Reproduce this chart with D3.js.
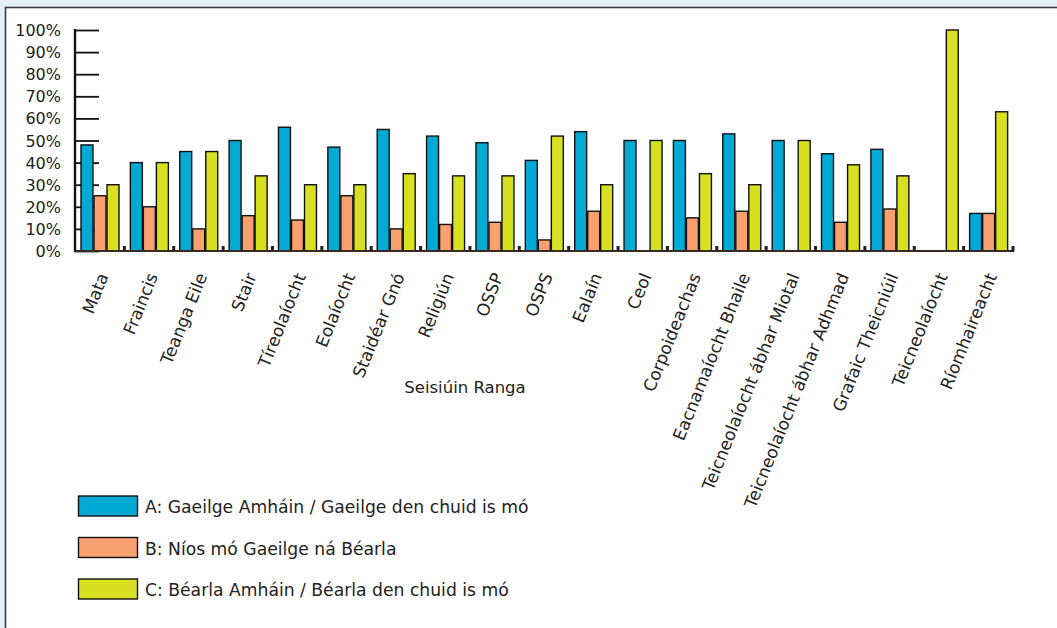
<!DOCTYPE html>
<html>
<head>
<meta charset="utf-8">
<script src="https://cdn.jsdelivr.net/npm/d3@7"></script>
<style>
  html, body { margin: 0; padding: 0; background: #e4f2f8; }
  svg { display: block; }
  text { font-family: "DejaVu Sans", "Open Sans", sans-serif; fill: #222; }
</style>
</head>
<body>
<svg id="chart" width="1057" height="628"></svg>
<script>
// Subjects (class sessions)
const categories = [
  "Mata", "Fraincis", "Teanga Eile", "Stair", "Tíreolaíocht", "Eolaíocht",
  "Staidéar Gnó", "Religiún", "OSSP", "OSPS", "Ealaín", "Ceol",
  "Corpoideachas", "Eacnamaíocht Bhaile", "Teicneolaíocht ábhar Miotal",
  "Teicneolaíocht ábhar Adhmad", "Grafaic Theicniúil", "Teicneolaíocht",
  "Ríomhaireacht"
];

// Percentage of sessions by language of instruction
const seriesA = [48, 40, 45, 50, 56, 47, 55, 52, 49, 41, 54, 50, 50, 53, 50, 44, 46, 0, 17];
const seriesB = [25, 20, 10, 16, 14, 25, 10, 12, 13, 5, 18, 0, 15, 18, 0, 13, 19, 0, 17];
const seriesC = [30, 40, 45, 34, 30, 30, 35, 34, 34, 52, 30, 50, 35, 30, 50, 39, 34, 100, 63];

const seriesNames = [
  "A: Gaeilge Amháin / Gaeilge den chuid is mó",
  "B: Níos mó Gaeilge ná Béarla",
  "C: Béarla Amháin / Béarla den chuid is mó"
];
const seriesColors = ["#00aad4", "#f9a070", "#d7e021"];
const yTicks = [0, 10, 20, 30, 40, 50, 60, 70, 80, 90, 100];
const xTitle = "Seisiúin Ranga";

const series = [seriesA, seriesB, seriesC];
const svg = d3.select("#chart");

// white panel with dark frame
svg.append("rect")
  .attr("x", 5.5).attr("y", 7.5)
  .attr("width", 1100).attr("height", 700)
  .attr("fill", "#fff")
  .attr("stroke", "#3a3a3a").attr("stroke-width", 1.6);

const plotL = 75, plotR = 1013, plotT = 30, plotB = 251;

const x = d3.scaleBand().domain(categories).range([plotL, plotR]).padding(0);
const xInner = d3.scaleBand().domain([0, 1, 2])
  .range([6, 44]).paddingInner(0.08);
const y = d3.scaleLinear().domain([0, 100]).range([plotB, plotT]);

// y axis: ticks pointing into the plot
const yAxis = d3.axisRight(y).tickValues(yTicks).tickSize(24).tickFormat("");
const gy = svg.append("g").attr("transform", `translate(${plotL},0)`).call(yAxis);
gy.select(".domain").remove();
gy.selectAll(".tick line").attr("stroke", "#111").attr("stroke-width", 1.8);

svg.append("g").selectAll("text")
  .data(yTicks).join("text")
  .attr("x", 61).attr("y", d => y(d) + 6)
  .attr("text-anchor", "end")
  .attr("font-size", 16)
  .text(d => d + "%");

// bars
categories.forEach((c, i) => {
  const g = svg.append("g").attr("transform", `translate(${x(c)},0)`);
  series.forEach((s, k) => {
    if (s[i] <= 0) return;
    g.append("rect")
      .attr("x", xInner(k))
      .attr("y", y(s[i]))
      .attr("width", xInner.bandwidth())
      .attr("height", y(0) - y(s[i]))
      .attr("fill", seriesColors[k])
      .attr("stroke", "#111")
      .attr("stroke-width", 1.4);
  });
});

// axis lines
svg.append("line")
  .attr("x1", plotL).attr("x2", plotL).attr("y1", plotT - 1).attr("y2", plotB + 1)
  .attr("stroke", "#111").attr("stroke-width", 2.4);
svg.append("line")
  .attr("x1", plotL).attr("x2", plotR + 1).attr("y1", plotB).attr("y2", plotB)
  .attr("stroke", "#3b2a22").attr("stroke-width", 2);

// category separators on the baseline
svg.append("g").selectAll("rect")
  .data(categories).join("rect")
  .attr("x", c => x(c) + x.bandwidth() - 1.5)
  .attr("y", plotB - 5)
  .attr("width", 3).attr("height", 5)
  .attr("fill", "#222");

// rotated category labels
svg.append("g").selectAll("text")
  .data(categories).join("text")
  .attr("transform", c => `translate(${x(c) + x.bandwidth() / 2 + 9},${276}) rotate(-68)`)
  .attr("text-anchor", "end")
  .attr("font-size", 17)
  .text(c => c);

// x axis title
svg.append("text")
  .attr("x", 465).attr("y", 393)
  .attr("text-anchor", "middle")
  .attr("font-size", 16.5)
  .text(xTitle);

// legend
const legend = svg.append("g");
seriesNames.forEach((name, k) => {
  const ly = 496 + k * 41.5;
  legend.append("rect")
    .attr("x", 78.5).attr("y", ly)
    .attr("width", 59).attr("height", 20)
    .attr("fill", seriesColors[k])
    .attr("stroke", "#111").attr("stroke-width", 1.4);
  legend.append("text")
    .attr("x", 145).attr("y", ly + 17)
    .attr("font-size", 17.2)
    .text(name);
});
</script>
</body>
</html>
